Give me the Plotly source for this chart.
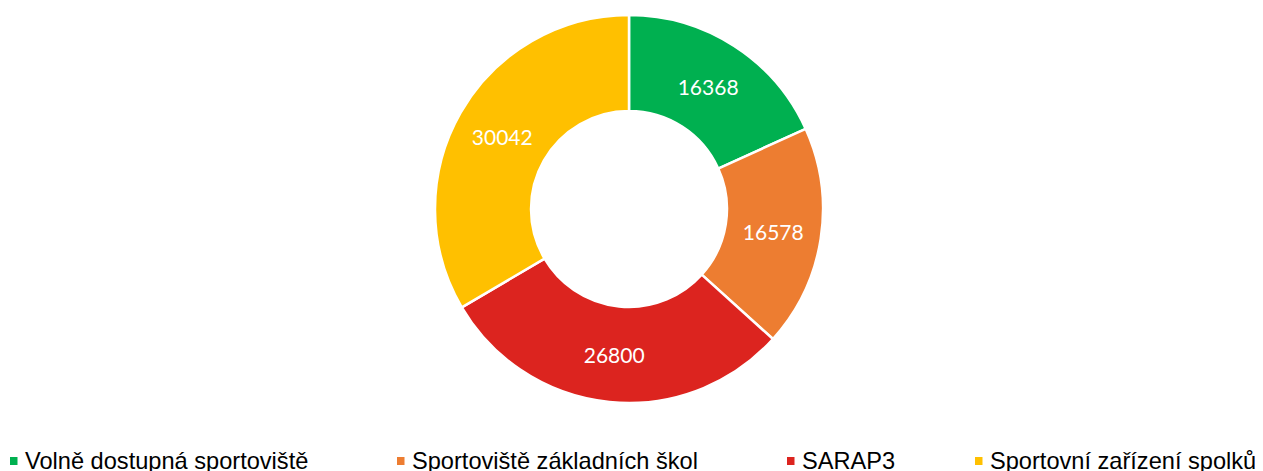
import plotly.graph_objects as go

categories = ["Volně dostupná sportoviště", "Sportoviště základních škol", "SARAP3", "Sportovní zařízení spolků"]
values = [16368, 16578, 26800, 30042]
colors = ["#00B050", "#ED7D31", "#DC241F", "#FFC000"]

# page body has an 8px margin; figure sized to fit the window exactly
OFF = 8
W, H = 1263 - OFF, 471 - OFF
cx, cy, R = 629 - OFF, 209 - OFF, 194

fig = go.Figure(go.Pie(
    labels=categories,
    values=values,
    sort=False,
    direction="clockwise",
    rotation=0,
    hole=0.505,
    marker=dict(colors=colors, line=dict(color="white", width=2.5)),
    textinfo="value",
    texttemplate="%{value:.0f}",
    textposition="inside",
    insidetextorientation="horizontal",
    textfont=dict(family="Lato, Carlito, Calibri, sans-serif", size=21, color="white"),
    domain=dict(x=[(cx - R) / W, (cx + R) / W], y=[1 - (cy + R) / H, 1 - (cy - R) / H]),
    showlegend=False,
))

# legend drawn as shapes + annotations
leg_sq_x = [10 - OFF, 397 - OFF, 787 - OFF, 975 - OFF]
leg_y = 461 - OFF
shapes = []
annotations = []
for name, col, x0 in zip(categories, colors, leg_sq_x):
    shapes.append(dict(type="rect", xref="paper", yref="paper",
                       x0=x0 / W, x1=(x0 + 7.5) / W,
                       y0=1 - (leg_y + 4) / H, y1=1 - (leg_y - 4) / H,
                       fillcolor=col, line=dict(width=0)))
    annotations.append(dict(text=name, xref="paper", yref="paper",
                            x=(x0 + 13) / W, y=1 - (leg_y) / H,
                            xanchor="left", yanchor="middle", showarrow=False,
                            font=dict(family="Liberation Sans, Arial, sans-serif", size=23.6, color="#000000")))

fig.update_layout(
    width=W, height=H,
    margin=dict(l=0, r=0, t=0, b=0),
    paper_bgcolor="white",
    plot_bgcolor="white",
    shapes=shapes,
    annotations=annotations,
    showlegend=False,
)

fig.write_html("out.html")
